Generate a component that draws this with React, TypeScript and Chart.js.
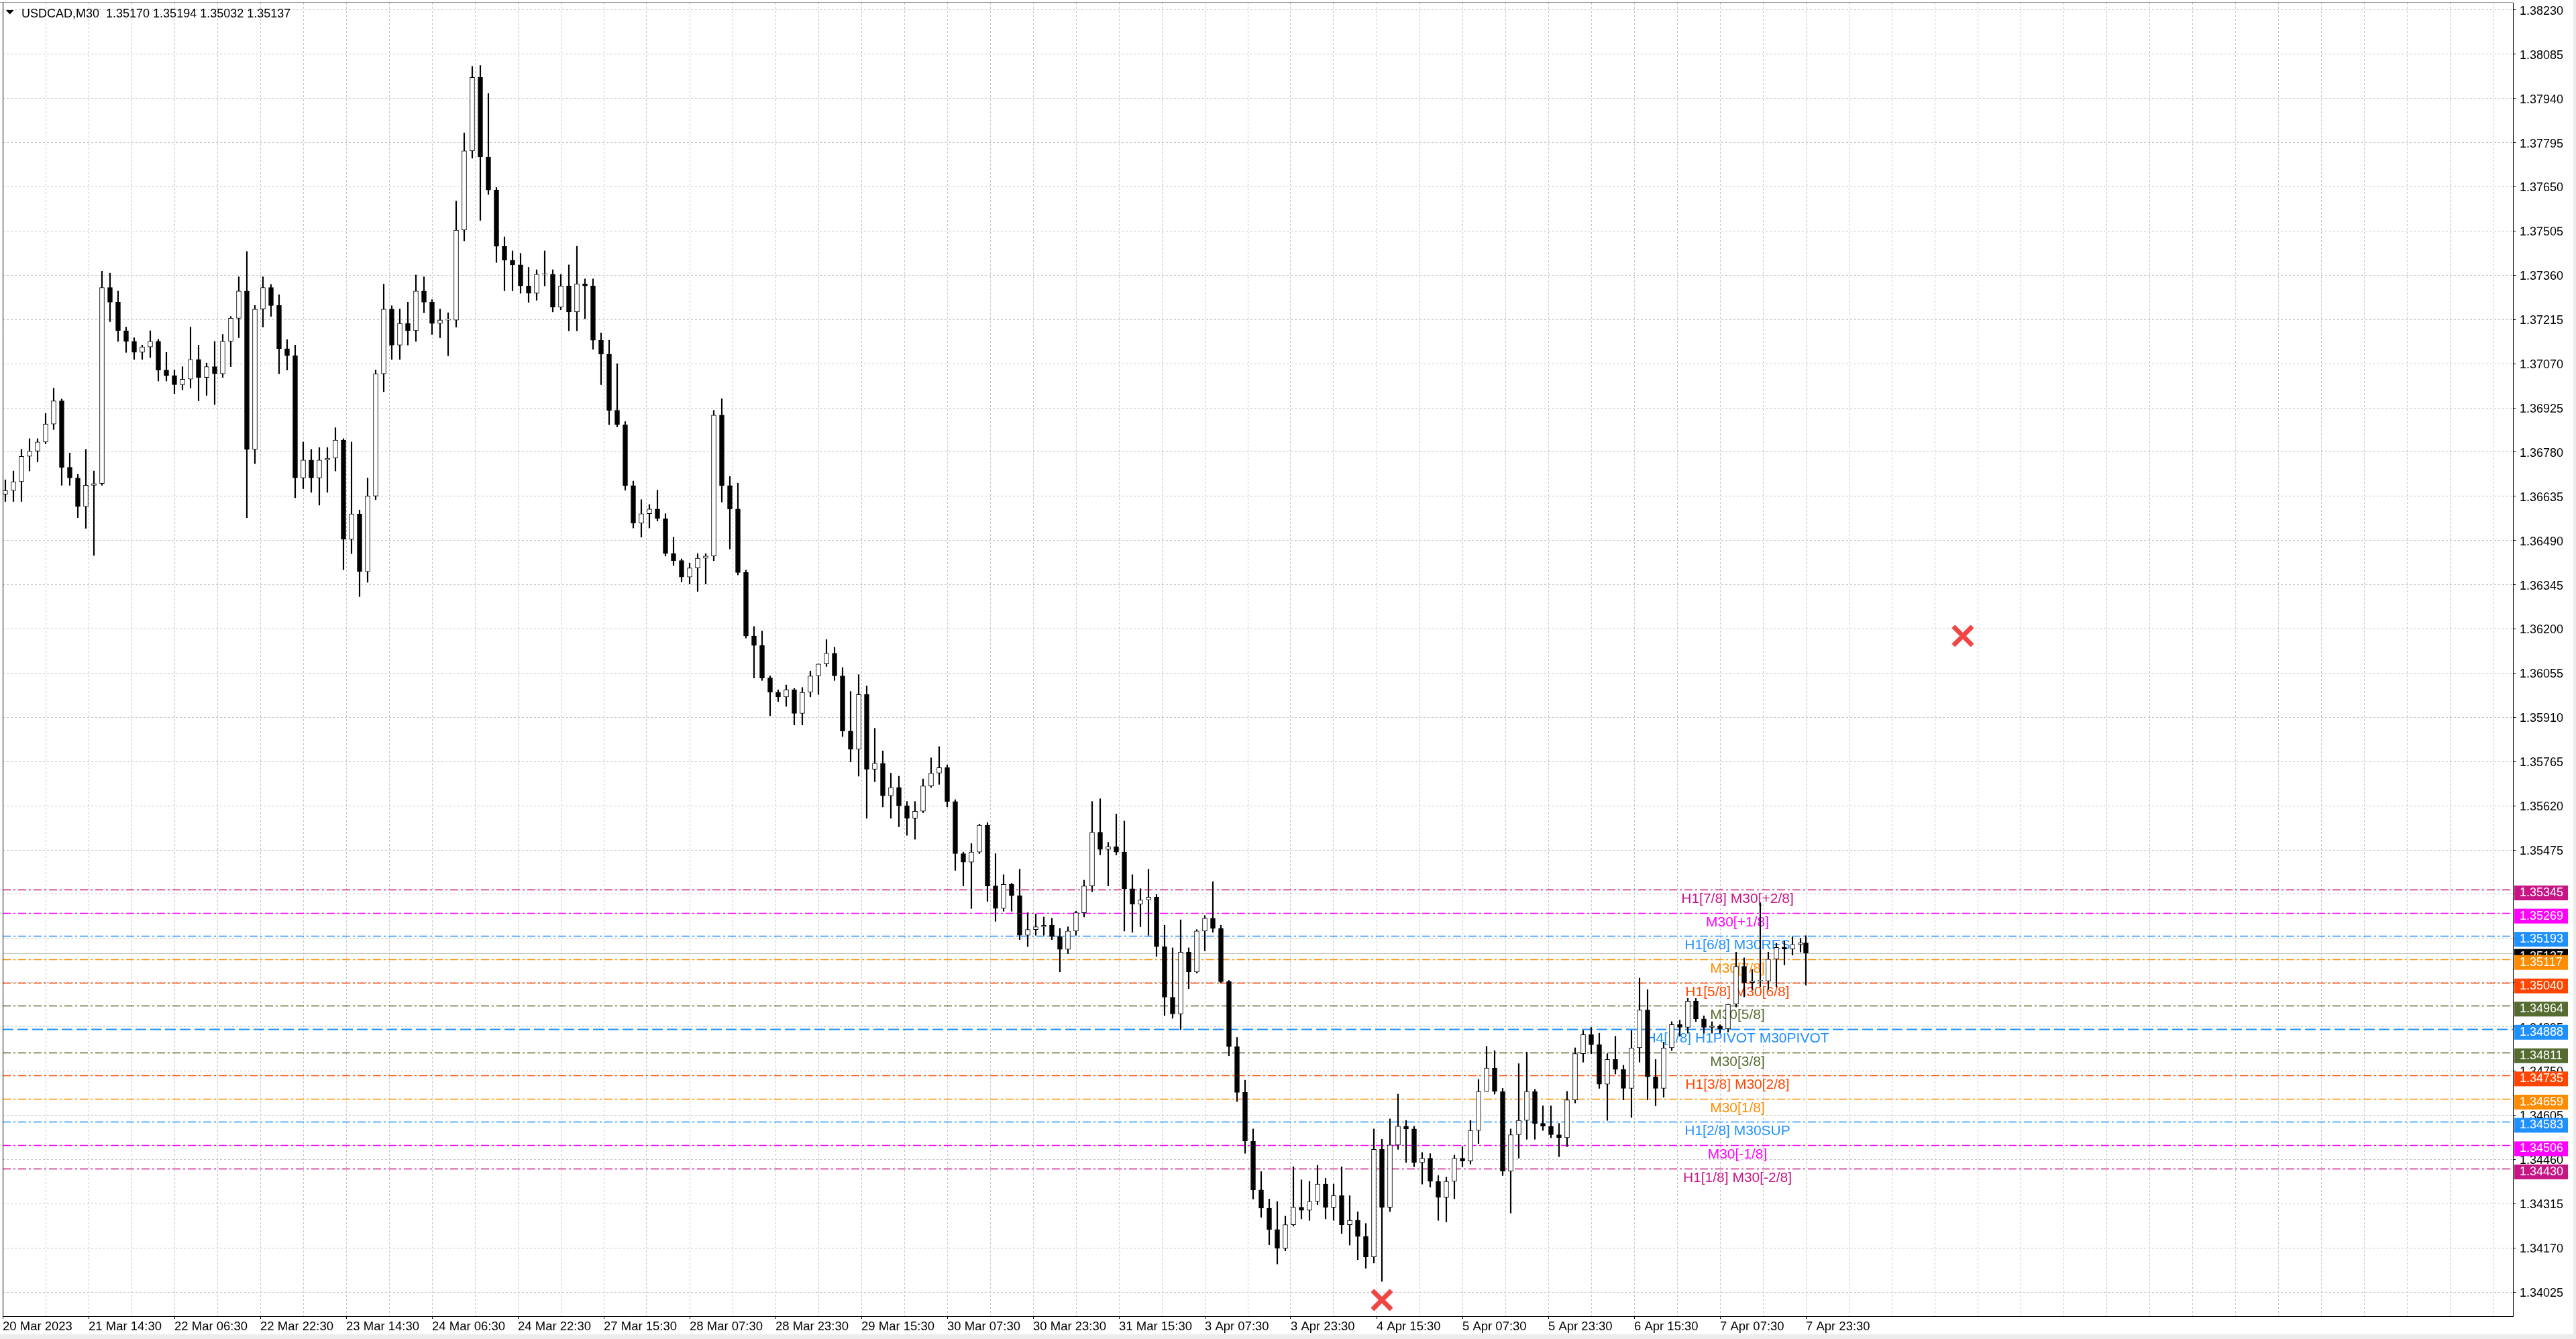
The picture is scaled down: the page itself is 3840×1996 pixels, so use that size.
import { useEffect, useRef } from 'react';
import { Chart, registerables } from 'chart.js';

Chart.register(...registerables);

// USDCAD M30, 20 Mar 22:30 .. 7 Apr 23:30, each candle here groups three M30 bars
const opens = [
  1.36642, 1.36654, 1.36683, 1.36766, 1.36783, 1.36813, 1.36872, 1.36948, 1.36730, 1.36695,
  1.36601, 1.36671, 1.36677, 1.37320, 1.37272, 1.37178, 1.37143, 1.37107, 1.37125, 1.37143,
  1.37049, 1.37031, 1.37001, 1.37019, 1.37084, 1.37025, 1.37060, 1.37037, 1.37143, 1.37219,
  1.37308, 1.36789, 1.37249, 1.37320, 1.37261, 1.37119, 1.37096, 1.36695, 1.36754, 1.36695,
  1.36754, 1.36760, 1.36819, 1.36494, 1.36577, 1.36388, 1.36636, 1.37037, 1.37249, 1.37131,
  1.37202, 1.37178, 1.37308, 1.37272, 1.37202, 1.37213, 1.37213, 1.37508, 1.37768, 1.38009,
  1.37748, 1.37640, 1.37455, 1.37409, 1.37394, 1.37325, 1.37301, 1.37363, 1.37363, 1.37255,
  1.37325, 1.37240, 1.37332, 1.37325, 1.37147, 1.37101, 1.36917, 1.36870, 1.36670, 1.36547,
  1.36578, 1.36593, 1.36562, 1.36447, 1.36424, 1.36370, 1.36400, 1.36432, 1.36439, 1.36901,
  1.36670, 1.36593, 1.36385, 1.36177, 1.36146, 1.36039, 1.35992, 1.35977, 1.36000, 1.35923,
  1.35992, 1.36046, 1.36085, 1.36120, 1.36046, 1.35865, 1.35805, 1.35985, 1.35740, 1.35759,
  1.35653, 1.35680, 1.35620, 1.35579, 1.35602, 1.35685, 1.35727, 1.35745, 1.35634, 1.35463,
  1.35435, 1.35468, 1.35556, 1.35357, 1.35283, 1.35362, 1.35325, 1.35195, 1.35214, 1.35223,
  1.35228, 1.35191, 1.35149, 1.35209, 1.35269, 1.35357, 1.35533, 1.35477, 1.35486, 1.35468,
  1.35348, 1.35297, 1.35311, 1.35320, 1.35158, 1.34992, 1.34937, 1.35140, 1.35075, 1.35209,
  1.35251, 1.35218, 1.35043, 1.34830, 1.34680, 1.34520, 1.34360, 1.34300, 1.34230, 1.34169,
  1.34246, 1.34303, 1.34293, 1.34322, 1.34379, 1.34303, 1.34341, 1.34246, 1.34260, 1.34207,
  1.34140, 1.34493, 1.34303, 1.34507, 1.34569, 1.34560, 1.34450, 1.34464, 1.34388, 1.34336,
  1.34388, 1.34464, 1.34455, 1.34555, 1.34683, 1.34760, 1.34683, 1.34421, 1.34541, 1.34588,
  1.34683, 1.34578, 1.34569, 1.34541, 1.34531, 1.34655, 1.34807, 1.34869, 1.34836, 1.34707,
  1.34788, 1.34755, 1.34693, 1.34826, 1.34950, 1.34731, 1.34693, 1.34826, 1.34902, 1.34893,
  1.34979, 1.34921, 1.34893, 1.34898, 1.34888, 1.34969, 1.35093, 1.35040, 1.35045, 1.35045,
  1.35117, 1.35155, 1.35150, 1.35165, 1.35170,
];

const highs = [
  1.36689, 1.36718, 1.36789, 1.36824, 1.36824, 1.36907, 1.36990, 1.36954, 1.36777, 1.36707,
  1.36789, 1.36718, 1.37373, 1.37367, 1.37308, 1.37190, 1.37155, 1.37131, 1.37178, 1.37150,
  1.37107, 1.37049, 1.37060, 1.37190, 1.37131, 1.37072, 1.37143, 1.37166, 1.37225, 1.37355,
  1.37438, 1.37261, 1.37355, 1.37330, 1.37296, 1.37149, 1.37131, 1.36813, 1.36789, 1.36795,
  1.36795, 1.36860, 1.36824, 1.36813, 1.36590, 1.36695, 1.37049, 1.37331, 1.37260, 1.37249,
  1.37272, 1.37361, 1.37355, 1.37280, 1.37249, 1.37237, 1.37603, 1.37827, 1.38045, 1.38048,
  1.37956, 1.37648, 1.37486, 1.37440, 1.37432, 1.37386, 1.37378, 1.37440, 1.37378, 1.37363,
  1.37394, 1.37455, 1.37348, 1.37348, 1.37171, 1.37147, 1.37070, 1.36880, 1.36685, 1.36624,
  1.36608, 1.36655, 1.36578, 1.36501, 1.36430, 1.36416, 1.36447, 1.36447, 1.36917, 1.36955,
  1.36700, 1.36678, 1.36393, 1.36208, 1.36193, 1.36046, 1.36000, 1.36016, 1.36005, 1.36008,
  1.36062, 1.36085, 1.36165, 1.36140, 1.36073, 1.35995, 1.36050, 1.36013, 1.35874, 1.35800,
  1.35727, 1.35717, 1.35634, 1.35634, 1.35708, 1.35777, 1.35814, 1.35754, 1.35640, 1.35468,
  1.35496, 1.35560, 1.35565, 1.35463, 1.35394, 1.35366, 1.35412, 1.35269, 1.35265, 1.35255,
  1.35251, 1.35218, 1.35223, 1.35274, 1.35376, 1.35634, 1.35643, 1.35500, 1.35593, 1.35570,
  1.35394, 1.35348, 1.35412, 1.35329, 1.35228, 1.35154, 1.35246, 1.35154, 1.35214, 1.35260,
  1.35371, 1.35228, 1.35047, 1.34860, 1.34720, 1.34560, 1.34420, 1.34330, 1.34322, 1.34274,
  1.34436, 1.34393, 1.34388, 1.34441, 1.34398, 1.34379, 1.34436, 1.34341, 1.34288, 1.34250,
  1.34560, 1.34526, 1.34593, 1.34674, 1.34588, 1.34569, 1.34483, 1.34479, 1.34407, 1.34402,
  1.34474, 1.34502, 1.34588, 1.34722, 1.34831, 1.34817, 1.34693, 1.34560, 1.34774, 1.34812,
  1.34690, 1.34636, 1.34636, 1.34578, 1.34683, 1.34826, 1.34883, 1.34893, 1.34874, 1.34807,
  1.34864, 1.34769, 1.34883, 1.35055, 1.35017, 1.34788, 1.34845, 1.34912, 1.34917, 1.34988,
  1.34988, 1.34931, 1.34912, 1.34902, 1.34969, 1.35140, 1.35121, 1.35083, 1.35302, 1.35140,
  1.35169, 1.35175, 1.35190, 1.35185, 1.35194,
];

const lows = [
  1.36618, 1.36618, 1.36618, 1.36718, 1.36748, 1.36807, 1.36854, 1.36671, 1.36671, 1.36565,
  1.36530, 1.36441, 1.36671, 1.37208, 1.37143, 1.37107, 1.37084, 1.37084, 1.37090, 1.37013,
  1.37013, 1.36972, 1.36984, 1.36990, 1.36948, 1.36966, 1.36936, 1.37025, 1.37060, 1.37155,
  1.36565, 1.36742, 1.37190, 1.37225, 1.37037, 1.37049, 1.36630, 1.36660, 1.36648, 1.36606,
  1.36648, 1.36718, 1.36394, 1.36447, 1.36306, 1.36353, 1.36624, 1.36978, 1.37084, 1.37084,
  1.37131, 1.37143, 1.37237, 1.37166, 1.37155, 1.37096, 1.37190, 1.37473, 1.37744, 1.37540,
  1.37625, 1.37402, 1.37309, 1.37309, 1.37301, 1.37271, 1.37278, 1.37325, 1.37240, 1.37247,
  1.37178, 1.37178, 1.37217, 1.37117, 1.37001, 1.36870, 1.36863, 1.36655, 1.36531, 1.36501,
  1.36531, 1.36554, 1.36439, 1.36408, 1.36354, 1.36347, 1.36323, 1.36347, 1.36424, 1.36616,
  1.36462, 1.36377, 1.36170, 1.36039, 1.36031, 1.35915, 1.35962, 1.35946, 1.35885, 1.35885,
  1.35977, 1.35985, 1.36077, 1.36031, 1.35847, 1.35764, 1.35717, 1.35579, 1.35699, 1.35616,
  1.35579, 1.35551, 1.35523, 1.35510, 1.35597, 1.35680, 1.35690, 1.35616, 1.35408, 1.35357,
  1.35283, 1.35463, 1.35306, 1.35241, 1.35274, 1.35274, 1.35181, 1.35158, 1.35195, 1.35195,
  1.35181, 1.35075, 1.35135, 1.35195, 1.35255, 1.35338, 1.35459, 1.35357, 1.35459, 1.35209,
  1.35205, 1.35223, 1.35195, 1.35126, 1.34932, 1.34923, 1.34886, 1.35020, 1.35071, 1.35144,
  1.35205, 1.35038, 1.34800, 1.34650, 1.34480, 1.34330, 1.34270, 1.34180, 1.34117, 1.34160,
  1.34241, 1.34265, 1.34260, 1.34312, 1.34265, 1.34260, 1.34217, 1.34179, 1.34131, 1.34103,
  1.34120, 1.34060, 1.34289, 1.34493, 1.34450, 1.34436, 1.34379, 1.34369, 1.34260, 1.34255,
  1.34331, 1.34436, 1.34445, 1.34512, 1.34683, 1.34674, 1.34407, 1.34284, 1.34464, 1.34526,
  1.34526, 1.34555, 1.34531, 1.34469, 1.34502, 1.34645, 1.34779, 1.34807, 1.34693, 1.34588,
  1.34740, 1.34655, 1.34598, 1.34779, 1.34655, 1.34636, 1.34664, 1.34817, 1.34864, 1.34874,
  1.34912, 1.34874, 1.34874, 1.34874, 1.34878, 1.34960, 1.34993, 1.35017, 1.35026, 1.35017,
  1.35026, 1.35098, 1.35130, 1.35140, 1.35032,
];

const closes = [
  1.36654, 1.36683, 1.36766, 1.36783, 1.36813, 1.36872, 1.36948, 1.36730, 1.36695, 1.36601,
  1.36671, 1.36677, 1.37320, 1.37272, 1.37178, 1.37143, 1.37107, 1.37125, 1.37143, 1.37049,
  1.37031, 1.37001, 1.37019, 1.37084, 1.37025, 1.37060, 1.37037, 1.37143, 1.37219, 1.37308,
  1.36789, 1.37249, 1.37320, 1.37261, 1.37119, 1.37096, 1.36695, 1.36754, 1.36695, 1.36754,
  1.36760, 1.36819, 1.36494, 1.36577, 1.36388, 1.36636, 1.37037, 1.37249, 1.37131, 1.37202,
  1.37178, 1.37308, 1.37272, 1.37202, 1.37213, 1.37213, 1.37508, 1.37768, 1.38009, 1.37748,
  1.37640, 1.37455, 1.37409, 1.37394, 1.37325, 1.37301, 1.37363, 1.37363, 1.37255, 1.37325,
  1.37240, 1.37332, 1.37325, 1.37147, 1.37101, 1.36917, 1.36870, 1.36670, 1.36547, 1.36578,
  1.36593, 1.36562, 1.36447, 1.36424, 1.36370, 1.36400, 1.36432, 1.36439, 1.36901, 1.36670,
  1.36593, 1.36385, 1.36177, 1.36146, 1.36039, 1.35992, 1.35977, 1.36000, 1.35923, 1.35992,
  1.36046, 1.36085, 1.36120, 1.36046, 1.35865, 1.35805, 1.35985, 1.35740, 1.35759, 1.35653,
  1.35680, 1.35620, 1.35579, 1.35602, 1.35685, 1.35727, 1.35745, 1.35634, 1.35463, 1.35435,
  1.35468, 1.35556, 1.35357, 1.35283, 1.35362, 1.35325, 1.35195, 1.35214, 1.35223, 1.35228,
  1.35191, 1.35149, 1.35209, 1.35269, 1.35357, 1.35533, 1.35477, 1.35486, 1.35468, 1.35348,
  1.35297, 1.35311, 1.35320, 1.35158, 1.34992, 1.34937, 1.35140, 1.35075, 1.35209, 1.35251,
  1.35218, 1.35043, 1.34830, 1.34680, 1.34520, 1.34360, 1.34300, 1.34230, 1.34169, 1.34246,
  1.34303, 1.34293, 1.34322, 1.34379, 1.34303, 1.34341, 1.34246, 1.34260, 1.34207, 1.34140,
  1.34493, 1.34303, 1.34507, 1.34569, 1.34560, 1.34450, 1.34464, 1.34388, 1.34336, 1.34388,
  1.34464, 1.34455, 1.34555, 1.34683, 1.34760, 1.34683, 1.34421, 1.34541, 1.34588, 1.34683,
  1.34578, 1.34569, 1.34541, 1.34531, 1.34655, 1.34807, 1.34869, 1.34836, 1.34707, 1.34788,
  1.34755, 1.34693, 1.34826, 1.34950, 1.34731, 1.34693, 1.34826, 1.34902, 1.34893, 1.34979,
  1.34921, 1.34893, 1.34898, 1.34888, 1.34969, 1.35093, 1.35040, 1.35045, 1.35045, 1.35117,
  1.35155, 1.35150, 1.35165, 1.35170, 1.35137,
];

// x positions are M30 bar numbers counted from the first visible bar
const lastBarIndex = 672;
const candleBars = opens.map((_, k) => Math.min(k * 3 + 1, lastBarIndex));

const priceTicks = [
  1.34025, 1.34170, 1.34315, 1.34460, 1.34605, 1.34750, 1.34895, 1.35040, 1.35185, 1.35330,
  1.35475, 1.35620, 1.35765, 1.35910, 1.36055, 1.36200, 1.36345, 1.36490, 1.36635, 1.36780,
  1.36925, 1.37070, 1.37215, 1.37360, 1.37505, 1.37650, 1.37795, 1.37940, 1.38085, 1.38230,
];

const timeTickBars = [0, 32, 64, 96, 128, 160, 192, 224, 256, 288, 320, 352, 384, 416, 448, 480, 512, 544, 576, 608, 640, 672];
const timeTickLabels = [
  '20 Mar 2023', '21 Mar 14:30', '22 Mar 06:30', '22 Mar 22:30', '23 Mar 14:30', '24 Mar 06:30',
  '24 Mar 22:30', '27 Mar 15:30', '28 Mar 07:30', '28 Mar 23:30', '29 Mar 15:30', '30 Mar 07:30',
  '30 Mar 23:30', '31 Mar 15:30', '3 Apr 07:30', '3 Apr 23:30', '4 Apr 15:30', '5 Apr 07:30',
  '5 Apr 23:30', '6 Apr 15:30', '7 Apr 07:30', '7 Apr 23:30',
];

// Murrey math style levels
const levelPrices = [1.35345, 1.35269, 1.35193, 1.35117, 1.35040, 1.34964, 1.34888, 1.34811, 1.34735, 1.34659, 1.34583, 1.34506, 1.34430];
const levelNames = [
  'H1[7/8] M30[+2/8]', 'M30[+1/8]', 'H1[6/8] M30RES', 'M30[7/8]', 'H1[5/8] M30[6/8]', 'M30[5/8]',
  'H4[1/8] H1PIVOT M30PIVOT', 'M30[3/8]', 'H1[3/8] M30[2/8]', 'M30[1/8]', 'H1[2/8] M30SUP', 'M30[-1/8]', 'H1[1/8] M30[-2/8]',
];

const lastBarOhlc = [1.35170, 1.35194, 1.35032, 1.35137];
const currentPrice = 1.35137;

const markerBars = [730.5, 514];
const markerPrices = [1.36177, 1.33999];

// styles
const FONT = "'Liberation Sans', Arial, sans-serif";
const levelColors = ['#C71585', '#FF00FF', '#1E90FF', '#FF8C00', '#FF4500', '#556B2F', '#1E90FF', '#556B2F', '#FF4500', '#FF8C00', '#1E90FF', '#FF00FF', '#C71585'];
const pivotLevel = 6;
const levelTextBar = 646.5;
const gridColor = '#c4c4c4';

Chart.defaults.font.family = FONT;

const gridBars: number[] = [];
for (let b = 0; b <= 935; b += 16) gridBars.push(b);

const drawTag = (ctx: CanvasRenderingContext2D, x: number, yy: number, color: string, text: string) => {
  ctx.fillStyle = color;
  ctx.fillRect(x, yy - 6, 80, 22);
  ctx.fillStyle = '#fff';
  ctx.textAlign = 'left';
  ctx.textBaseline = 'middle';
  ctx.fillText(text, x + 8, yy + 5);
};

const levelsPlugin = {
  id: 'mtLevels',
  beforeDraw(chart: any) {
    const { ctx, width, height } = chart;
    ctx.save();
    ctx.fillStyle = '#ffffff';
    ctx.fillRect(0, 0, width, height);
    ctx.fillStyle = '#ececec';
    ctx.fillRect(0, height - 7, width, 7);
    ctx.fillRect(width - 4, 0, 4, height);
    ctx.restore();
  },
  beforeDatasetsDraw(chart: any) {
    const { ctx, chartArea: a, scales } = chart;
    const x = scales.x;
    const y = scales.y;
    ctx.save();
    const py = Math.round(y.getPixelForValue(currentPrice)) + 0.5;
    ctx.strokeStyle = '#c0c0c0';
    ctx.lineWidth = 1;
    ctx.setLineDash([]);
    ctx.beginPath();
    ctx.moveTo(a.left, py);
    ctx.lineTo(a.right, py);
    ctx.stroke();

    levelPrices.forEach((p, i) => {
      const ly = Math.round(y.getPixelForValue(p)) + 0.5;
      ctx.strokeStyle = levelColors[i];
      ctx.lineWidth = i === pivotLevel ? 2 : 1.3;
      ctx.setLineDash(i === pivotLevel ? [16, 6] : [12, 4, 3, 4]);
      ctx.beginPath();
      ctx.moveTo(a.left, ly);
      ctx.lineTo(a.right, ly);
      ctx.stroke();
    });
    ctx.setLineDash([]);

    ctx.font = `21px ${FONT}`;
    ctx.textAlign = 'center';
    ctx.textBaseline = 'alphabetic';
    const lx = x.getPixelForValue(levelTextBar);
    levelPrices.forEach((p, i) => {
      ctx.fillStyle = levelColors[i];
      ctx.fillText(levelNames[i], lx, y.getPixelForValue(p) + 20);
    });
    ctx.restore();
  },
  afterDraw(chart: any) {
    const { ctx, chartArea: a, scales } = chart;
    const y = scales.y;
    ctx.save();
    // frame
    ctx.strokeStyle = '#000';
    ctx.lineWidth = 1;
    ctx.beginPath();
    ctx.moveTo(a.left + 0.5, a.top);
    ctx.lineTo(a.left + 0.5, a.bottom);
    ctx.stroke();
    ctx.strokeStyle = '#8c8c8c';
    ctx.beginPath();
    ctx.moveTo(0, a.top - 0.5);
    ctx.lineTo(a.right, a.top - 0.5);
    ctx.stroke();

    // price tags on the axis
    ctx.font = `18px ${FONT}`;
    const tx = y.left + 2;
    drawTag(ctx, tx, y.getPixelForValue(currentPrice), '#000', currentPrice.toFixed(5));
    levelPrices.forEach((p, i) => drawTag(ctx, tx, y.getPixelForValue(p), levelColors[i], p.toFixed(5)));

    // symbol header
    ctx.fillStyle = '#000';
    ctx.beginPath();
    ctx.moveTo(9, 15);
    ctx.lineTo(20.5, 15);
    ctx.lineTo(14.75, 21.5);
    ctx.closePath();
    ctx.fill();
    ctx.font = `18px ${FONT}`;
    ctx.textAlign = 'left';
    ctx.textBaseline = 'alphabetic';
    ctx.fillText('USDCAD,M30  ' + lastBarOhlc.map((v) => v.toFixed(5)).join(' '), 32, 26);
    ctx.restore();
  },
};

export default function App() {
  const canvasRef = useRef<HTMLCanvasElement>(null);
  const chartRef = useRef<Chart | null>(null);

  useEffect(() => {
    if (!canvasRef.current) return;

    const bodies = candleBars.map((b, k) => ({ x: b, y: [opens[k], closes[k]] }));
    const wicks = candleBars.map((b, k) => ({ x: b, y: [lows[k], highs[k]] }));
    const bodyColors = closes.map((c, k) => (c >= opens[k] ? '#ffffff' : '#000000'));
    const markers = markerBars.map((b, i) => ({ x: b, y: markerPrices[i] }));

    const config: any = {
      type: 'bar',
      data: {
        datasets: [
          {
            type: 'scatter',
            data: markers,
            pointStyle: 'crossRot',
            pointRadius: 20,
            pointHoverRadius: 20,
            pointBorderWidth: 7,
            pointBorderColor: '#ef4545',
            pointBackgroundColor: 'rgba(0,0,0,0)',
            clip: false,
            order: 0,
          },
          {
            data: bodies,
            backgroundColor: bodyColors,
            borderColor: '#000',
            borderWidth: 1,
            borderSkipped: false,
            barThickness: 7,
            minBarLength: 1,
            grouped: false,
            order: 1,
          },
          {
            data: wicks,
            backgroundColor: '#000',
            borderWidth: 0,
            barThickness: 1.5,
            grouped: false,
            order: 2,
          },
        ],
      },
      options: {
        responsive: false,
        animation: false,
        events: [],
        layout: { autoPadding: false, padding: { left: 4, top: 4, right: 0, bottom: 0 } },
        plugins: { legend: { display: false }, tooltip: { enabled: false }, title: { display: false } },
        scales: {
          x: {
            type: 'linear',
            min: 0,
            max: 935.5,
            offset: false,
            afterBuildTicks: (s: any) => { s.ticks = gridBars.map((v) => ({ value: v })); },
            afterFit: (s: any) => {
              s.height = 34;
              s.paddingLeft = 0;
              s.paddingRight = 0;
            },
            ticks: {
              autoSkip: false,
              maxRotation: 0,
              minRotation: 0,
              align: 'start',
              padding: 1,
              color: '#000',
              font: { size: 18.5 },
              callback: (v: any) => {
                const i = timeTickBars.indexOf(Number(v));
                return i >= 0 ? timeTickLabels[i] : '';
              },
            },
            grid: {
              color: gridColor,
              lineWidth: 1,
              offset: false,
              tickLength: 4,
              tickBorderDash: [],
              tickColor: (c: any) => (c.tick && timeTickBars.includes(c.tick.value) ? '#000' : 'rgba(0,0,0,0)'),
            },
            border: { display: true, color: '#000', width: 1, dash: [3, 3] },
          },
          y: {
            type: 'linear',
            position: 'right',
            min: 1.339458,
            max: 1.38254,
            afterBuildTicks: (s: any) => { s.ticks = priceTicks.map((v) => ({ value: v })); },
            afterFit: (s: any) => {
              s.width = 94;
              s.paddingTop = 0;
              s.paddingBottom = 0;
            },
            ticks: {
              autoSkip: false,
              padding: 6,
              labelOffset: 2,
              color: '#000',
              font: { size: 18 },
              callback: (v: any) => Number(v).toFixed(5),
            },
            grid: { color: gridColor, lineWidth: 1, tickLength: 4, tickColor: '#000', tickBorderDash: [] },
            border: { display: true, color: '#000', width: 1, dash: [3, 3] },
          },
        },
      },
      plugins: [levelsPlugin],
    };

    chartRef.current?.destroy();
    chartRef.current = new Chart(canvasRef.current, config);

    return () => {
      chartRef.current?.destroy();
      chartRef.current = null;
    };
  }, []);

  return (
    <div style={{ position: 'fixed', left: 0, top: 0, width: 3840, height: 1996, background: '#fff' }}>
      <canvas ref={canvasRef} width={3840} height={1996} style={{ display: 'block' }} />
    </div>
  );
}
